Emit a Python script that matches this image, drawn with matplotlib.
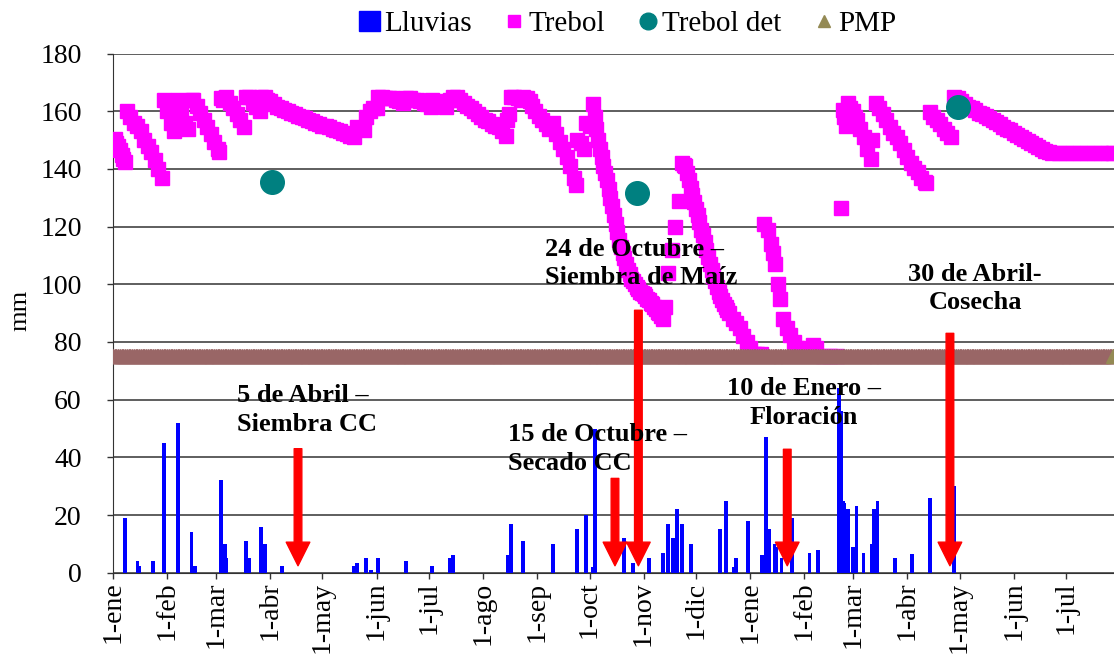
import matplotlib
matplotlib.use("Agg")
import matplotlib.pyplot as plt
import pandas as pd
from matplotlib.lines import Line2D
from matplotlib.patches import Patch

# ---------------- data (day 0 = 1-ene of first year) ----------------
rain_day = [7, 14, 15, 23, 29, 37, 45, 47, 62, 64, 65, 76, 78, 85, 87, 97,
            138, 140, 145, 148, 152, 168, 183, 193, 195, 226, 228, 235, 252,
            266, 271, 275, 276, 293, 298, 307, 315, 318, 321, 323, 326, 331,
            348, 351, 356, 357, 364, 372, 374, 376, 379, 380, 383, 389, 399,
            404, 416, 417, 418, 419, 421, 424, 426, 430, 435, 436, 438, 448,
            458, 468, 482]
rain_mm = [19, 4, 2.4, 4, 45, 52, 14, 2.4, 32, 10, 5, 11, 5, 16, 10, 2.4,
           2.4, 3.2, 5, 1, 5, 4, 2.4, 5, 6.2, 6, 17, 11, 10,
           15, 20, 2, 50, 12, 3.2, 5, 7, 17, 12, 22, 17, 10,
           15, 25, 2, 5, 18, 6, 47, 15, 10, 9, 5, 19, 7,
           8, 64, 56, 25, 24, 22, 9, 23, 7, 10, 22, 25, 5,
           6.4, 26, 30]

trebol_day = [1, 2, 3, 4, 5, 6, 7,
              8, 10, 12, 14, 16, 18, 20, 22, 24, 26, 28,
              29, 31, 33, 35, 37, 39, 41, 43, 45,
              46, 48, 50, 52, 54, 56, 58, 60, 61,
              62, 63, 64, 65, 67, 69, 71, 73, 75,
              76, 78, 80, 82, 84, 85, 87, 88, 90, 92, 94, 96, 98, 100, 102, 104,
              106, 108, 110, 112, 114, 116, 118, 120, 122, 124, 126, 128, 130,
              132, 134, 136, 138,
              140, 142, 144, 145, 147, 149, 151, 152, 154, 156, 158, 160, 162,
              164, 166, 168, 170, 172, 174, 176, 178, 180, 182, 183, 185, 187,
              189, 191, 193, 195, 197,
              199, 201, 203, 205, 207, 209, 211, 213, 215, 217, 219, 221, 223, 225,
              226, 227, 228, 230, 232, 234, 235, 237, 239,
              240, 242, 244, 246, 248, 250, 252, 254, 256, 258, 260, 262, 264, 265,
              266, 268, 270, 271, 273,
              275, 276, 277, 278, 279, 280, 281, 282, 283, 284, 285, 286, 287,
              288, 289, 290, 291, 292, 293, 294, 295, 296, 297, 298, 299, 300,
              301, 302, 303, 304, 305, 306, 307, 308, 309, 310, 311, 312, 313,
              314, 315,
              316, 318, 320, 322, 324,
              326, 327, 328, 329, 330, 331, 332, 333, 334, 335, 336, 337, 338,
              339, 340, 341, 342, 343, 344, 345, 346, 347, 348, 349, 350, 351,
              352, 353, 355, 357, 359, 361, 363, 365, 367, 369, 371,
              373, 375, 377, 378, 379, 381, 382, 384, 386, 388, 390, 392, 394,
              396, 399, 401, 403, 407, 411, 415,
              417, 418, 419, 420, 421, 422, 423, 424, 425, 426, 428, 430, 432, 434,
              435, 437, 439, 441, 443, 445, 447, 449, 451, 453, 455, 457, 459,
              461, 463, 465, 466,
              468, 470, 472, 474, 476, 478, 480,
              482, 484, 486, 488, 490, 492, 494, 496, 498, 500, 502, 504, 506,
              508, 510, 512, 514, 516, 518, 520, 522, 524, 526, 528, 530, 532,
              534, 536, 538, 542, 546, 550, 554, 558, 562, 566, 570, 573]
trebol_mm = [150.5, 149, 148, 146.5, 145, 143.5, 142.5,
             160, 158, 156, 155, 153, 150, 148, 146, 143, 140, 137,
             164, 160, 156, 153, 164, 160, 156, 154, 164,
             164, 162, 159.5, 157, 154.5, 152, 149.5, 147, 146,
             164.5, 164, 164.5, 165, 163, 161, 159, 157, 154.5,
             165, 165, 163, 161.5, 160, 165, 165, 164, 163.5, 162.5, 161.5, 161,
             160.5, 160, 159.5, 159,
             158.5, 158, 157.5, 157, 156.5, 156, 155.5, 155, 155, 154.5, 154,
             153.5, 153, 152.5, 152, 151.5, 151,
             154.5, 154, 153.5, 158, 160, 161, 161, 165, 165, 164.5, 164.5,
             164.5, 164,
             163.5, 163, 164.5, 164.5, 164, 164, 163.5, 163, 162.5, 161.5, 164,
             163.5, 163,
             162, 161.5, 164, 165, 165,
             164, 163, 162, 161, 160, 159, 158, 157, 156.5, 155.5, 155, 154.5,
             153, 151.5,
             157, 159, 165, 165, 164.5, 164, 165, 164.5, 163.5,
             162, 160, 158.5, 157, 155.5, 154, 156, 152, 149.5, 147, 144, 141,
             137, 134.5,
             150, 149, 147, 156, 155,
             162.5, 158, 154, 150, 147, 144, 141, 138.5, 136, 133, 130, 127, 124,
             121, 118, 115.5, 113, 111, 109, 107, 105, 103.5, 102, 101, 100, 99,
             98.5, 97.5, 97, 96.5, 96, 95, 94.5, 93.5, 93, 92, 91.5, 90.5, 90,
             89, 88,
             92, 104, 112, 120, 129,
             142, 141.5, 141, 138.5, 136, 133.5, 131, 128.5, 126, 124, 121.5, 119,
             117, 114.5, 112, 109.5, 107, 105, 103, 101, 99, 97.5, 96, 94.5, 93,
             92, 91, 90, 88, 86.5, 85, 82, 80, 78, 76, 76, 76,
             121, 119, 114, 111, 107, 100, 95, 88, 85, 82.5, 80, 78, 76,
             76, 78, 79, 78, 75, 75, 75,
             126.6, 160.5, 158, 155, 162.7, 161, 159, 160, 158, 157, 154, 151,
             147, 143.5,
             150, 162.7, 161, 159, 157, 154.5, 152.3, 151, 149, 146.5, 144, 142,
             140.5, 139, 137, 135.5, 135,
             159.8, 158, 157, 155.5, 154, 152.5, 151,
             165, 164.5, 163.5, 162.5, 161.5, 161, 160.5, 159.5, 159, 158.5,
             157.7, 157, 156.2, 155.5, 154.7, 154, 153.4, 152.6, 151.8, 151,
             150.3, 149.6, 149, 148.2, 147.5, 146.8, 146.2, 145.8, 145.6, 145.5,
             145.5, 145.5, 145.5, 145.5, 145.5, 145.5, 145.5, 145.5]

det_day = [91, 300, 484]
det_mm = [135.4, 131.5, 161.5]

pmp_level = 75
last_day = 573

# events: (arrow day, arrow top value)
event_day = [106, 287.6, 301, 386.3, 479.5]
event_top = [43, 32.7, 91, 42.8, 83]
arrow_tip = 2.4

labels_txt = ["5 de Abril –\nSiembra CC",
              "15 de Octubre –\nSecado CC",
              "24 de Octubre –\nSiembra de Maíz",
              "10 de Enero –\nFloración",
              "30 de Abril-\nCosecha"]
labels_x = [71, 226.3, 247.5, 396, 494]
labels_y = [56.4, 42.9, 107.2, 58.8, 98.6]
labels_ha = ["left", "left", "left", "center", "center"]

month_starts = pd.date_range("2009-01-01", periods=19, freq="MS")
tick_pos = [(d - month_starts[0]).days for d in month_starts]
tick_lab = ["1-ene", "1-feb", "1-mar", "1-abr", "1-may", "1-jun", "1-jul",
            "1-ago", "1-sep", "1-oct", "1-nov", "1-dic", "1-ene", "1-feb",
            "1-mar", "1-abr", "1-may", "1-jun", "1-jul"]

# ---------------- figure ----------------
plt.rcParams["font.family"] = ["Liberation Serif", "DejaVu Serif"]
W, H = 1114, 659
fig = plt.figure(figsize=(W / 100, H / 100), dpi=100)
ax = fig.add_axes([113 / W, (H - 572.7) / H, (W - 113) / W, (572.7 - 53.6) / H])

ax.set_xlim(0, last_day + 0.5)
ax.set_ylim(0, 180)
ax.set_yticks(range(0, 181, 20))
ax.yaxis.grid(True, color="#333333", lw=1.1, zorder=0)
ax.set_axisbelow(True)
for s in ["top", "right"]:
    ax.spines[s].set_visible(False)
ax.spines["left"].set_color("#333333")
ax.spines["bottom"].set_color("#333333")

ax.bar(rain_day, rain_mm, width=2.2, color="#0000FF", zorder=2)
ax.plot(trebol_day, trebol_mm, "s", ms=10.5, color="#FF00FF", mec="#FF00FF", zorder=3)
pmp_days = list(range(0, last_day + 1))
ax.plot(pmp_days, [pmp_level] * len(pmp_days), "^", ms=10, color="#996666",
        mec="#996666", zorder=4)
ax.plot(pmp_days[-1:], [pmp_level], "^", ms=10, color="#948A54", mec="#948A54", zorder=4)
ax.plot(det_day, det_mm, "o", ms=17, color="#008080", mec="#008080", zorder=5)

for d, t in zip(event_day, event_top):
    ax.annotate("", xy=(d, arrow_tip), xytext=(d, t),
                arrowprops=dict(width=5.5, headwidth=17, headlength=17,
                                color="#FF0000", shrink=0), zorder=7)

for s, x, y, ha in zip(labels_txt, labels_x, labels_y, labels_ha):
    ax.text(x, y, s, ha=ha, va="center",
            multialignment="center" if ha == "center" else "left",
            fontsize=19, fontweight="bold", zorder=8, linespacing=1.3)

ax.set_xticks(tick_pos)
ax.set_xticklabels(tick_lab, rotation=90)
ax.tick_params(axis="x", labelsize=20, direction="out", length=4.5, width=1,
               color="#333333", pad=2)
ax.tick_params(axis="y", labelsize=20, direction="out", length=4.5, width=1,
               color="#333333", pad=18)
fig.text(20 / W, 1 - 310 / H, "mm", rotation=90, ha="center", va="center", fontsize=19)

handles = [Patch(facecolor="#0000FF", edgecolor="#0000FF"),
           Line2D([], [], ls="", marker="s", ms=9, color="#FF00FF"),
           Line2D([], [], ls="", marker="o", ms=12, color="#008080"),
           Line2D([], [], ls="", marker="^", ms=9, color="#948A54")]
fig.legend(handles, ["Lluvias", "Trebol", "Trebol det", "PMP"], loc="center",
           bbox_to_anchor=(628 / W, 1 - 24 / H), ncol=4, frameon=False,
           fontsize=21, handlelength=0.7, handletextpad=0.15, columnspacing=1.1,
           handleheight=0.7)

fig.savefig("out.png", dpi=100)
